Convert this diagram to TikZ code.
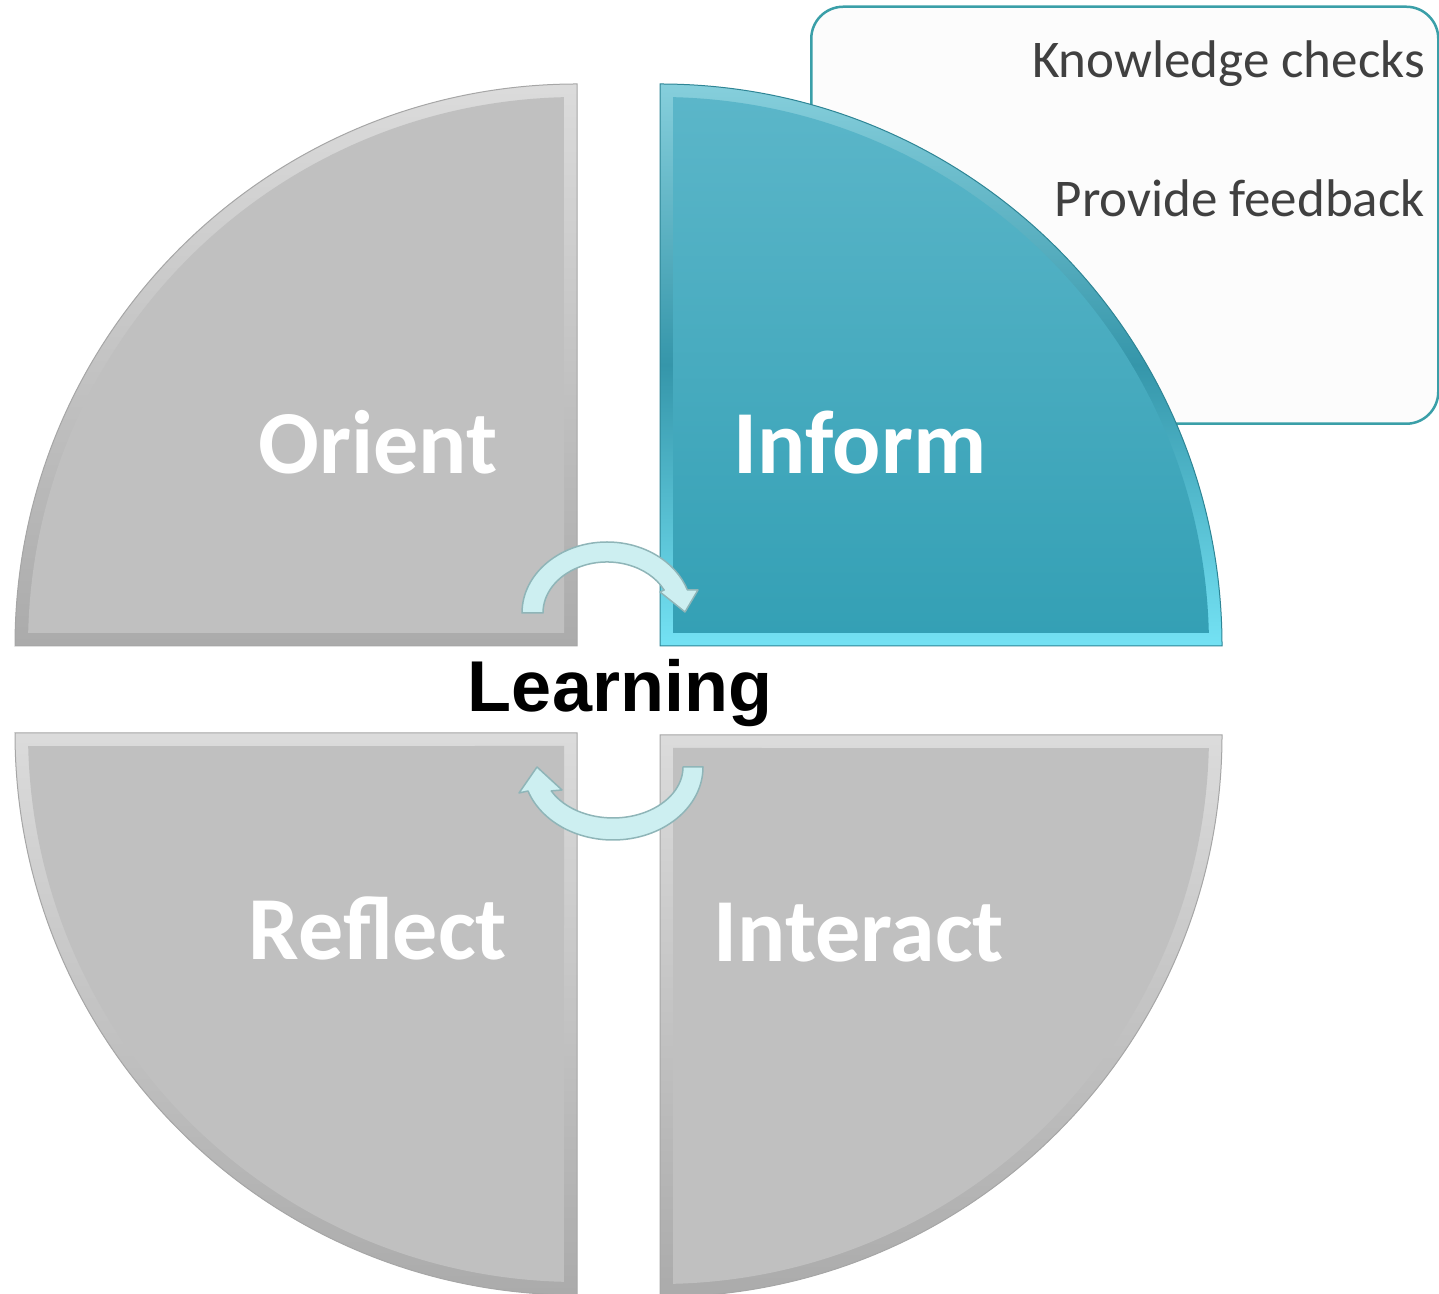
\documentclass[tikz,border=0pt]{standalone}
\usepackage{fontspec}
\setmainfont{Carlito}
\newfontfamily\arialfont{Liberation Sans}
\definecolor{grayface}{HTML}{C0C0C0}
\definecolor{grayedge}{HTML}{A6A6A6}
\definecolor{tealedge}{HTML}{2E8595}
\definecolor{tealtop}{HTML}{86CFDC}
\definecolor{tealmid}{HTML}{3596AA}
\definecolor{tealbot}{HTML}{74E2F4}
\definecolor{tealfacetop}{HTML}{5BB6C9}
\definecolor{tealfacebot}{HTML}{34A0B5}
\definecolor{boxedge}{HTML}{3A9FA8}
\definecolor{boxtext}{HTML}{404040}
\definecolor{arrowfill}{HTML}{CDEFF1}
\definecolor{arrowedge}{HTML}{8FB5B8}
\tikzset{
  grayouter/.style={shading=axis, top color=white!86!black, bottom color=black!33, draw=grayedge, line width=1pt},
  grayinner/.style={fill=grayface},
  tealouter/.style={top color=tealtop, bottom color=tealbot, middle color=tealmid, draw=tealedge, line width=1pt},
  tealinner/.style={top color=tealfacetop, bottom color=tealfacebot},
  qlabel/.style={text=white, font=\fontsize{90}{90}\selectfont\bfseries, inner sep=0pt, anchor=base},
  boxlabel/.style={text=boxtext, font=\fontsize{53}{53}\selectfont, inner sep=0pt, anchor=base east},
  centerlabel/.style={text=black, font=\arialfont\fontsize{72}{72}\selectfont\bfseries, inner sep=0pt, anchor=base},
  arrowshape/.style={fill=arrowfill, draw=arrowedge, line width=1.5pt, line join=round},
  infobox/.style={draw=boxedge, fill=white!99!black, line width=2.5pt, rounded corners=32pt}
}
\begin{document}
\begin{tikzpicture}[x=1pt,y=1pt]
\useasboundingbox (0,0) rectangle (1439,1293);
\clip (0,0) rectangle (1439,1293);

% info box behind Inform
\node[infobox, minimum width=627pt, minimum height=417pt, anchor=south west] (box) at (810,868) {};
\node[boxlabel] (kc) at (1425,1215) {Knowledge checks};
\node[boxlabel] (pf) at (1425,1076) {Provide feedback};

% Orient (top-left)
\path[grayouter] (577,647) -- (15,647) arc[start angle=180,end angle=90,radius=562] -- cycle;
\path[grayinner] (564,660) -- ([shift={(577,647)}]178.64:549) arc[start angle=178.64,end angle=91.36,radius=549] -- cycle;

% Inform (top-right)
\path[tealouter] (660,647) -- (660,1209) arc[start angle=90,end angle=0,radius=562] -- cycle;
\path[tealinner] (673,660) -- ([shift={(660,647)}]88.64:549) arc[start angle=88.64,end angle=1.36,radius=549] -- cycle;

% Reflect (bottom-left)
\path[grayouter] (577,560) -- (15,560) arc[start angle=180,end angle=270,radius=562] -- cycle;
\path[grayinner] (564,547) -- ([shift={(577,560)}]181.36:549) arc[start angle=181.36,end angle=268.64,radius=549] -- cycle;

% Interact (bottom-right)
\path[grayouter] (660,558) -- (1222,558) arc[start angle=0,end angle=-90,radius=562] -- cycle;
\path[grayinner] (673,545) -- ([shift={(660,558)}]-1.36:549) arc[start angle=-1.36,end angle=-88.64,radius=549] -- cycle;

% labels
\node[qlabel] (orient) at (378,819) {Orient};
\node[qlabel] (inform) at (860,819) {Inform};
\node[qlabel] (reflect) at (378,333) {Reflect};
\node[qlabel] (interact) at (859,331) {Interact};
\node[centerlabel] (learning) at (620,581) {Learning};

% cycle arrows
\path[arrowshape] (543,680) -- (522,680) arc[start angle=180,end angle=19,x radius=85,y radius=71]
  -- (698,703) -- (685,681) -- (660,701) -- (664.1,703)
  arc[start angle=26.8,end angle=180,x radius=64,y radius=51] -- cycle;
\path[arrowshape] (683,526) -- (703,526) arc[start angle=0,end angle=-160.8,x radius=90,y radius=73]
  -- (519,500) -- (537,526) -- (562,503) -- (551.2,502.1)
  arc[start angle=-152,end angle=0,x radius=70,y radius=51] -- cycle;
\end{tikzpicture}
\end{document}
